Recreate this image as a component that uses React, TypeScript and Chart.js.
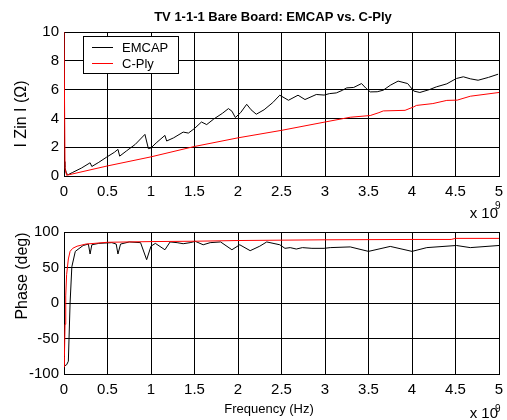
import React, { useEffect, useRef } from "react";
import { Chart, registerables } from "chart.js";
Chart.register(...registerables);

const FONT = "'Liberation Sans', Arial, Helvetica, sans-serif";

// ---- tick labels ----
const freqTickValues = [0, 0.5, 1, 1.5, 2, 2.5, 3, 3.5, 4, 4.5, 5];
const freqTickLabels = ["0", "0.5", "1", "1.5", "2", "2.5", "3", "3.5", "4", "4.5", "5"];
const zTickValues = [0, 2, 4, 6, 8, 10];
const zTickLabels = ["0", "2", "4", "6", "8", "10"];
const phaseTickValues = [-100, -50, 0, 50, 100];
const phaseTickLabels = ["-100", "-50", "0", "50", "100"];

// ---- |Zin| data (frequency in units of 1e9 Hz) ----
const emcapZFreq = [0, 0.01, 0.03, 0.05, 0.1, 0.2, 0.29, 0.3, 0.32, 0.4, 0.49, 0.58, 0.62, 0.64, 0.72, 0.82, 0.93, 0.97, 1.0, 1.06, 1.16, 1.18, 1.26, 1.37, 1.43, 1.5, 1.58, 1.64, 1.72, 1.82, 1.89, 1.93, 1.97, 2.03, 2.1, 2.15, 2.21, 2.3, 2.4, 2.48, 2.58, 2.69, 2.77, 2.9, 2.99, 3.05, 3.13, 3.2, 3.25, 3.33, 3.42, 3.47, 3.52, 3.6, 3.67, 3.75, 3.84, 3.95, 4.02, 4.09, 4.2, 4.28, 4.4, 4.51, 4.59, 4.67, 4.76, 4.88, 4.99];
const emcapZ = [1.0, 0.6, 0.15, 0.1, 0.25, 0.55, 0.88, 0.92, 0.66, 0.95, 1.31, 1.65, 1.85, 1.38, 1.75, 2.2, 2.89, 1.9, 1.95, 2.3, 2.82, 2.43, 2.65, 3.05, 2.98, 3.3, 3.75, 3.57, 3.95, 4.35, 4.68, 4.5, 4.06, 4.4, 4.98, 4.6, 4.29, 4.6, 5.1, 5.61, 5.26, 5.61, 5.31, 5.66, 5.62, 5.72, 5.77, 5.95, 6.12, 6.15, 6.42, 6.1, 5.84, 5.85, 5.96, 6.3, 6.59, 6.42, 5.9, 5.8, 6.0, 6.19, 6.4, 6.77, 6.89, 6.75, 6.65, 6.85, 7.07];
const cplyZFreq = [0, 0.012, 0.03, 0.5, 1.0, 1.5, 2.0, 2.5, 3.0, 3.29, 3.52, 3.62, 3.67, 3.92, 4.02, 4.05, 4.24, 4.4, 4.52, 4.67, 5.0];
const cplyZ = [10, 0.5, 0.05, 0.7, 1.33, 2.05, 2.65, 3.17, 3.75, 4.08, 4.2, 4.4, 4.52, 4.56, 4.8, 4.9, 5.03, 5.25, 5.27, 5.54, 5.8];

// ---- Phase data ----
const emcapPhFreq = [0, 0.03, 0.05, 0.07, 0.09, 0.13, 0.22, 0.28, 0.3, 0.32, 0.4, 0.55, 0.6, 0.62, 0.65, 0.75, 0.88, 0.95, 1.0, 1.05, 1.16, 1.22, 1.3, 1.37, 1.45, 1.51, 1.6, 1.68, 1.8, 1.93, 2.02, 2.14, 2.25, 2.33, 2.48, 2.54, 2.6, 2.67, 2.74, 2.85, 2.99, 3.06, 3.29, 3.5, 3.75, 4.0, 4.17, 4.51, 4.67, 5.0];
const emcapPh = [-89, -87, -82, 0, 51, 72.7, 81, 83, 69, 82, 84, 85, 83, 69, 83, 86, 85, 61, 80, 84, 75, 86, 85, 83.5, 85, 86.8, 82, 85, 86, 75, 82, 73.7, 80, 86, 82, 77, 78, 76, 78, 77, 77, 78, 79, 72.7, 79.7, 72.7, 78, 81, 78, 81];
const cplyPhFreq = [0, 0.005, 0.012, 0.02, 0.03, 0.05, 0.07, 0.1, 0.15, 0.25, 0.5, 1.0, 1.5, 2.0, 3.0, 4.0, 4.45, 4.5, 5.0];
const cplyPh = [-90, -75, -30, 10, 40, 62, 72.7, 77, 80, 83, 85.5, 86.5, 87, 88, 89, 89.5, 89.5, 91, 91];

const seriesNames = ["EMCAP", "C-Ply"];
const titleText = "TV 1-1-1 Bare Board: EMCAP vs. C-Ply";
const yLabelTop = "I Zin I (\u03A9)";
const yLabelBottom = "Phase (deg)";
const xLabel = "Frequency (Hz)";

const pts = (xs: number[], ys: number[]) => xs.map((x, i) => ({ x, y: ys[i] }));

function makeOverlay(isTop: boolean) {
  return {
    id: isTop ? "overlayTop" : "overlayBottom",
    afterDraw(chart: any) {
      const ctx = chart.ctx as CanvasRenderingContext2D;
      const a = chart.chartArea;
      ctx.save();
      ctx.fillStyle = "#000";
      // exponent label
      ctx.textAlign = "right";
      ctx.textBaseline = "alphabetic";
      ctx.font = `15px ${FONT}`;
      ctx.fillText("x 10", a.right - 1, isTop ? a.bottom + 42 : a.bottom + 44);
      ctx.textAlign = "left";
      ctx.font = `10px ${FONT}`;
      ctx.fillText("9", a.right - 4, isTop ? a.bottom + 33 : a.bottom + 38);
      // y label
      ctx.save();
      ctx.font = `16px ${FONT}`;
      ctx.textAlign = "center";
      ctx.textBaseline = "middle";
      ctx.translate(isTop ? 22 : 23, isTop ? 114 : 276);
      ctx.rotate(-Math.PI / 2);
      ctx.fillText(isTop ? yLabelTop : yLabelBottom, 0, 0);
      ctx.restore();
      if (isTop) {
        // title
        ctx.font = `bold 13px ${FONT}`;
        ctx.textAlign = "center";
        ctx.textBaseline = "middle";
        ctx.fillText(titleText, 273, 17);
        // legend
        const bx = 83, by = 36, bw = 95, bh = 37;
        ctx.fillStyle = "#fff";
        ctx.fillRect(bx, by, bw, bh);
        ctx.strokeStyle = "#000";
        ctx.lineWidth = 1;
        ctx.strokeRect(bx + 0.5, by + 0.5, bw, bh);
        const ds = chart.data.datasets;
        const rows = [47, 63];
        for (let i = 0; i < 2; i++) {
          ctx.strokeStyle = ds[i].borderColor;
          ctx.beginPath();
          ctx.moveTo(92, rows[i] + 0.5);
          ctx.lineTo(113, rows[i] + 0.5);
          ctx.stroke();
          ctx.fillStyle = "#000";
          ctx.font = `13px ${FONT}`;
          ctx.textAlign = "left";
          ctx.textBaseline = "middle";
          ctx.fillText(ds[i].label, 122, rows[i] + 1);
        }
      } else {
        ctx.font = `13px ${FONT}`;
        ctx.textAlign = "center";
        ctx.textBaseline = "middle";
        ctx.fillText(xLabel, 269, 409);
      }
      ctx.restore();
    },
  };
}

function makeConfig(isTop: boolean): any {
  const yVals = isTop ? zTickValues : phaseTickValues;
  const yLabs = isTop ? zTickLabels : phaseTickLabels;
  return {
    type: "line",
    data: {
      datasets: [
        {
          label: seriesNames[0],
          data: isTop ? pts(emcapZFreq, emcapZ) : pts(emcapPhFreq, emcapPh),
          borderColor: "#000000",
          borderWidth: 1,
          pointRadius: 0,
          tension: 0,
          fill: false,
          order: 2,
        },
        {
          label: seriesNames[1],
          data: isTop ? pts(cplyZFreq, cplyZ) : pts(cplyPhFreq, cplyPh),
          borderColor: "#ff0000",
          borderWidth: 1,
          pointRadius: 0,
          tension: 0,
          fill: false,
          order: 1,
        },
      ],
    },
    options: {
      animation: false,
      responsive: false,
      devicePixelRatio: 1,
      events: [],
      layout: {
        padding: { left: 0, right: 8, top: isTop ? 32 : 232, bottom: isTop ? 214 : 16 },
      },
      plugins: {
        legend: { display: false },
        title: { display: false },
        tooltip: { enabled: false },
      },
      scales: {
        x: {
          type: "linear",
          min: 0,
          max: 5,
          afterBuildTicks: (s: any) => {
            s.ticks = freqTickValues.map((v) => ({ value: v }));
          },
          afterFit: (s: any) => {
            s.height = 30;
            s.paddingLeft = 0;
            s.paddingRight = 0;
          },
          ticks: {
            autoSkip: false,
            maxRotation: 0,
            padding: 7,
            color: "#000",
            font: { family: FONT, size: 15 },
            callback: (v: number) => freqTickLabels[freqTickValues.indexOf(v)] ?? "",
          },
          grid: { color: "#000", lineWidth: 1, drawTicks: false },
          border: { display: true, color: "#000", width: 1 },
        },
        y: {
          type: "linear",
          min: yVals[0],
          max: yVals[yVals.length - 1],
          afterBuildTicks: (s: any) => {
            s.ticks = yVals.map((v) => ({ value: v }));
          },
          afterFit: (s: any) => {
            s.width = 64;
            s.paddingTop = 0;
            s.paddingBottom = 0;
          },
          ticks: {
            autoSkip: false,
            padding: 5,
            color: "#000",
            font: { family: FONT, size: 15 },
            callback: (v: number) => yLabs[yVals.indexOf(v)] ?? "",
          },
          grid: { color: "#000", lineWidth: 1, drawTicks: false },
          border: { display: true, color: "#000", width: 1 },
        },
      },
    },
    plugins: [makeOverlay(isTop)],
  };
}

export default function App() {
  const r1 = useRef<HTMLCanvasElement>(null);
  const r2 = useRef<HTMLCanvasElement>(null);
  useEffect(() => {
    const c1 = new Chart(r1.current as HTMLCanvasElement, makeConfig(true));
    const c2 = new Chart(r2.current as HTMLCanvasElement, makeConfig(false));
    return () => {
      c1.destroy();
      c2.destroy();
    };
  }, []);
  return (
    <div style={{ position: "absolute", left: 0, top: 0, width: 507, height: 420, background: "#fff" }}>
      <canvas ref={r1} width={507} height={420} style={{ position: "absolute", left: 0, top: 0 }} />
      <canvas ref={r2} width={507} height={420} style={{ position: "absolute", left: 0, top: 0 }} />
    </div>
  );
}
